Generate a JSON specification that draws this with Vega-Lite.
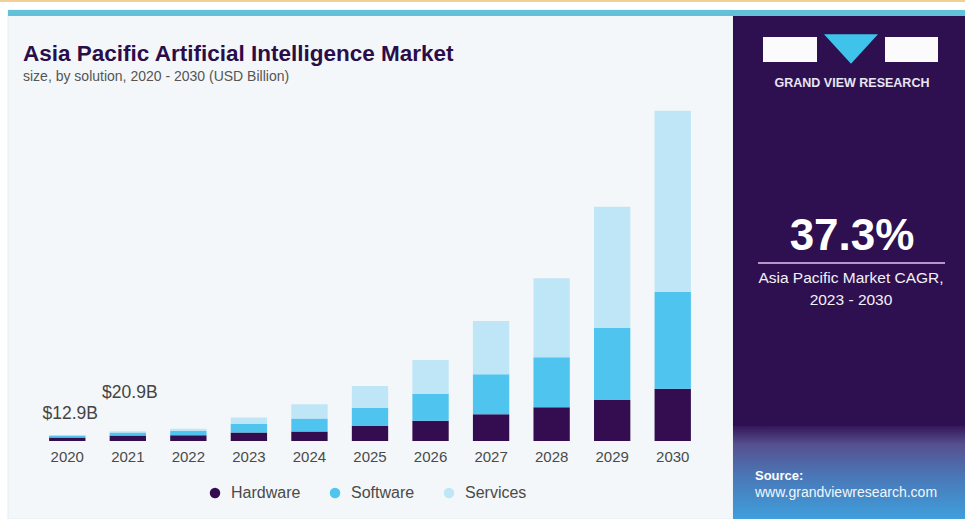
{
  "$schema": "https://vega.github.io/schema/vega-lite/v6.json",
  "width": 666,
  "height": 341,
  "autosize": {"type": "none"},
  "padding": {"left": 37, "top": 100, "right": 262, "bottom": 78},
  "background": "#ffffff",
  "config": {"view": {"stroke": null}, "font": "Liberation Sans"},
  "datasets": {
    "market": [
      {"year": "2020", "solution": "Hardware", "value": 7.5},
      {"year": "2020", "solution": "Software", "value": 4.0},
      {"year": "2020", "solution": "Services", "value": 1.4},
      {"year": "2021", "solution": "Hardware", "value": 11.5},
      {"year": "2021", "solution": "Software", "value": 6.4},
      {"year": "2021", "solution": "Services", "value": 3.0},
      {"year": "2022", "solution": "Hardware", "value": 12},
      {"year": "2022", "solution": "Software", "value": 9},
      {"year": "2022", "solution": "Services", "value": 5},
      {"year": "2023", "solution": "Hardware", "value": 18},
      {"year": "2023", "solution": "Software", "value": 18},
      {"year": "2023", "solution": "Services", "value": 14},
      {"year": "2024", "solution": "Hardware", "value": 20},
      {"year": "2024", "solution": "Software", "value": 28},
      {"year": "2024", "solution": "Services", "value": 30},
      {"year": "2025", "solution": "Hardware", "value": 32},
      {"year": "2025", "solution": "Software", "value": 38},
      {"year": "2025", "solution": "Services", "value": 47},
      {"year": "2026", "solution": "Hardware", "value": 43},
      {"year": "2026", "solution": "Software", "value": 57},
      {"year": "2026", "solution": "Services", "value": 72},
      {"year": "2027", "solution": "Hardware", "value": 57},
      {"year": "2027", "solution": "Software", "value": 85},
      {"year": "2027", "solution": "Services", "value": 113},
      {"year": "2028", "solution": "Hardware", "value": 72},
      {"year": "2028", "solution": "Software", "value": 106},
      {"year": "2028", "solution": "Services", "value": 168},
      {"year": "2029", "solution": "Hardware", "value": 87},
      {"year": "2029", "solution": "Software", "value": 153},
      {"year": "2029", "solution": "Services", "value": 258},
      {"year": "2030", "solution": "Hardware", "value": 111},
      {"year": "2030", "solution": "Software", "value": 206},
      {"year": "2030", "solution": "Services", "value": 385}
    ],
    "totals": [
      {"year": "2020", "total": 12.9, "label": "$12.9B"},
      {"year": "2021", "total": 20.9, "label": "$20.9B"}
    ]
  },
  "layer": [
    {
      "data": {"values": [{"part": "top line"}]},
      "mark": {"type": "rect", "fill": "#f2cf94"},
      "encoding": {"x": {"value": -37}, "x2": {"value": 928}, "y": {"value": -100}, "y2": {"value": -98}}
    },
    {
      "data": {"values": [{"part": "chart panel"}]},
      "mark": {"type": "rect", "fill": "#f3f7f9", "stroke": "#e6ecef", "strokeWidth": 1},
      "encoding": {"x": {"value": -29}, "x2": {"value": 696}, "y": {"value": -90}, "y2": {"value": 419}}
    },
    {
      "data": {"values": [{"part": "teal strip"}]},
      "mark": {"type": "rect", "fill": "#62c0d8"},
      "encoding": {"x": {"value": -29}, "x2": {"value": 928}, "y": {"value": -90}, "y2": {"value": -84}}
    },
    {
      "data": {"values": [{"part": "side panel"}]},
      "mark": {"type": "rect", "fill": "#2e1050"},
      "encoding": {"x": {"value": 696}, "x2": {"value": 928}, "y": {"value": -84}, "y2": {"value": 419}}
    },
    {
      "data": {"values": [{"part": "side panel footer"}]},
      "mark": {
        "type": "rect",
        "fill": {
          "gradient": "linear", "x1": 0, "y1": 0, "x2": 0, "y2": 1,
          "stops": [
            {"offset": 0, "color": "#34175a"},
            {"offset": 0.2, "color": "#56508f"},
            {"offset": 0.55, "color": "#4a78b8"},
            {"offset": 1, "color": "#3f9fdc"}
          ]
        }
      },
      "encoding": {"x": {"value": 696}, "x2": {"value": 928}, "y": {"value": 326}, "y2": {"value": 419}}
    },
    {
      "data": {"values": [{"t": "Asia Pacific Artificial Intelligence Market"}]},
      "mark": {"type": "text", "fontSize": 22.5, "fontWeight": "bold", "fill": "#2b0d4a", "align": "left", "baseline": "alphabetic"},
      "encoding": {"x": {"value": -14}, "y": {"value": -39}, "text": {"field": "t"}}
    },
    {
      "data": {"values": [{"t": "size, by solution, 2020 - 2030 (USD Billion)"}]},
      "mark": {"type": "text", "fontSize": 14, "fill": "#555555", "align": "left", "baseline": "alphabetic"},
      "encoding": {"x": {"value": -14}, "y": {"value": -19}, "text": {"field": "t"}}
    },
    {
      "data": {"values": [{"part": "logo left"}]},
      "mark": {"type": "rect", "fill": "#fbfafd"},
      "encoding": {"x": {"value": 726}, "x2": {"value": 780}, "y": {"value": -63}, "y2": {"value": -38}}
    },
    {
      "data": {"values": [{"part": "logo right"}]},
      "mark": {"type": "rect", "fill": "#fbfafd"},
      "encoding": {"x": {"value": 848}, "x2": {"value": 901}, "y": {"value": -63}, "y2": {"value": -38}}
    },
    {
      "data": {"values": [{"part": "logo triangle"}]},
      "mark": {"type": "point", "shape": "M-1,-0.55L1,-0.55L0,0.55Z", "filled": true, "fill": "#3fc3ea", "opacity": 1, "size": 2916},
      "encoding": {"x": {"value": 814}, "y": {"value": -51}}
    },
    {
      "data": {"values": [{"t": "GRAND VIEW RESEARCH"}]},
      "mark": {"type": "text", "fontSize": 12.5, "fontWeight": "bold", "fill": "#e9e5f1", "letterSpacing": 2, "align": "center", "baseline": "alphabetic"},
      "encoding": {"x": {"value": 815}, "y": {"value": -13}, "text": {"field": "t"}}
    },
    {
      "data": {"values": [{"t": "37.3%"}]},
      "mark": {"type": "text", "fontSize": 44, "fontWeight": "bold", "fill": "#ffffff", "align": "center", "baseline": "alphabetic"},
      "encoding": {"x": {"value": 815}, "y": {"value": 150}, "text": {"field": "t"}}
    },
    {
      "data": {"values": [{"part": "divider"}]},
      "mark": {"type": "rule", "stroke": "#b895c8", "strokeWidth": 2},
      "encoding": {"x": {"value": 721}, "x2": {"value": 908}, "y": {"value": 163}}
    },
    {
      "data": {"values": [{"t": "Asia Pacific Market CAGR,"}, {"t": "2023 - 2030"}]},
      "mark": {"type": "text", "fontSize": 15.5, "fill": "#f4f0f8", "align": "center", "baseline": "alphabetic", "lineHeight": 22},
      "transform": [{"aggregate": [{"op": "values", "field": "t", "as": "lines"}]}, {"calculate": "pluck(datum.lines, 't')", "as": "txt"}],
      "encoding": {"x": {"value": 814}, "y": {"value": 183}, "text": {"field": "txt"}}
    },
    {
      "data": {"values": [{"t": "Source:"}]},
      "mark": {"type": "text", "fontSize": 13, "fontWeight": "bold", "fill": "#ffffff", "align": "left", "baseline": "alphabetic"},
      "encoding": {"x": {"value": 718}, "y": {"value": 380}, "text": {"field": "t"}}
    },
    {
      "data": {"values": [{"t": "www.grandviewresearch.com"}]},
      "mark": {"type": "text", "fontSize": 14, "fill": "#f2f6fb", "align": "left", "baseline": "alphabetic"},
      "encoding": {"x": {"value": 718}, "y": {"value": 397}, "text": {"field": "t"}}
    },
    {
      "data": {"name": "market"},
      "transform": [{"calculate": "indexof(['Hardware','Software','Services'], datum.solution)", "as": "stackOrder"}],
      "mark": {"type": "bar"},
      "encoding": {
        "x": {
          "field": "year", "type": "nominal", "sort": "ascending",
          "scale": {"paddingInner": 0.4, "paddingOuter": 0.2},
          "axis": {"title": null, "labelAngle": 0, "labelFontSize": 15, "labelColor": "#4a4a4a", "labelPadding": 8, "domain": false, "ticks": false, "labelFont": "Liberation Sans", "zindex": 2}
        },
        "y": {
          "field": "value", "type": "quantitative", "stack": "zero",
          "scale": {"domain": [0, 725], "nice": false},
          "axis": null
        },
        "color": {
          "field": "solution", "type": "nominal",
          "scale": {"domain": ["Hardware", "Software", "Services"], "range": ["#330d4f", "#4ec4ee", "#bfe6f6"]},
          "legend": {
            "title": null, "orient": "none", "direction": "horizontal",
            "legendX": 170, "legendY": 385,
            "symbolType": "circle", "symbolSize": 110, "symbolOpacity": 1,
            "labelFontSize": 16, "labelColor": "#4a4a4a", "labelFont": "Liberation Sans",
            "columnPadding": 26, "labelOffset": 8
          }
        },
        "order": {"field": "stackOrder", "type": "quantitative", "sort": "ascending"}
      }
    },
    {
      "data": {"name": "totals"},
      "transform": [{"filter": "datum.year === '2020'"}],
      "mark": {"type": "text", "fontSize": 17.5, "fill": "#444444", "align": "center", "baseline": "alphabetic", "dx": 3, "dy": -16},
      "encoding": {
        "x": {"field": "year", "type": "nominal", "sort": "ascending"},
        "y": {"field": "total", "type": "quantitative"},
        "text": {"field": "label"}
      }
    },
    {
      "data": {"name": "totals"},
      "transform": [{"filter": "datum.year === '2021'"}],
      "mark": {"type": "text", "fontSize": 17.5, "fill": "#444444", "align": "center", "baseline": "alphabetic", "dx": 2, "dy": -33},
      "encoding": {
        "x": {"field": "year", "type": "nominal", "sort": "ascending"},
        "y": {"field": "total", "type": "quantitative"},
        "text": {"field": "label"}
      }
    }
  ]
}
